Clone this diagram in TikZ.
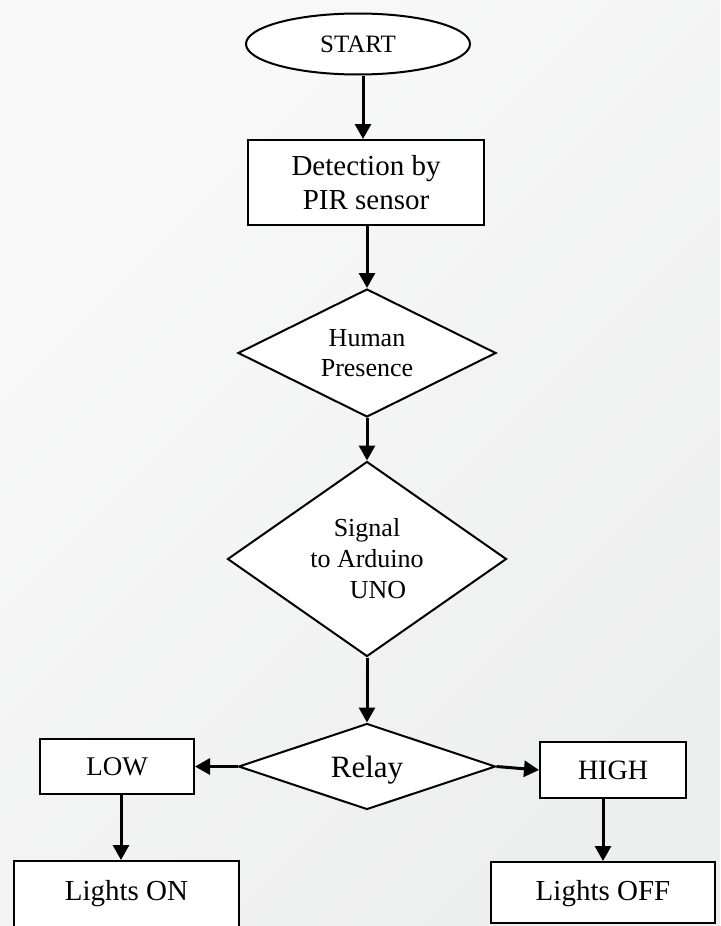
\documentclass[tikz,border=0pt]{standalone}
\usepackage{fontspec}
\setmainfont{Liberation Serif}
\usetikzlibrary{shapes.geometric,arrows.meta}
\definecolor{bglight}{RGB}{249,249,249}
\definecolor{bgdark}{RGB}{237,238,238}
\begin{document}
\begin{tikzpicture}[x=1pt,y=-1pt,
  outline/.style={draw=black, line width=2pt, fill=white, inner sep=0pt},
  box/.style={outline, rectangle, align=center},
  decision/.style={outline, diamond, align=center},
  arr/.style={line width=3pt, -{Triangle[length=15pt,width=16pt]}},
]
\useasboundingbox (0,0) rectangle (720,926);
\clip (0,0) rectangle (720,926);
\shade[top color=bglight, bottom color=bgdark, shading angle=45] (0,0) rectangle (720,926);

% main column
\node[outline, ellipse, minimum width=224pt, minimum height=61pt,
      font=\fontsize{25}{30}\selectfont] (start) at (358,44) {START};
\node[box, minimum width=236pt, minimum height=85pt,
      font=\fontsize{29}{34}\selectfont] (det) at (366,182.5) {Detection by\\PIR sensor};
\node[decision, minimum width=258pt, minimum height=128pt, shape aspect=2,
      font=\fontsize{26}{30}\selectfont] (hum) at (367,353) {Human\\Presence};
\node[decision, minimum width=279pt, minimum height=195pt, shape aspect=1.43,
      font=\fontsize{26}{31}\selectfont] (sig) at (367,559) {Signal\\to Arduino\\\hspace*{22pt}UNO};
\node[decision, minimum width=257pt, minimum height=86pt, shape aspect=3,
      text depth=0pt, font=\fontsize{31}{36}\selectfont] (rel) at (367,766.5) {Relay};

% branches
\node[box, minimum width=154pt, minimum height=55pt,
      font=\fontsize{27}{32}\selectfont] (low) at (117,766.5) {LOW};
\node[box, minimum width=146pt, minimum height=56pt,
      font=\fontsize{28}{32}\selectfont] (high) at (613,770) {HIGH};
\node[box, anchor=north, minimum width=225pt, text height=20pt, text depth=17pt,
      inner ysep=19pt, font=\fontsize{29}{34}\selectfont] (lon) at (126.5,860) {Lights ON};
\node[box, anchor=north, minimum width=224pt, text height=20pt, text depth=5pt,
      inner ysep=18pt, font=\fontsize{29}{34}\selectfont] (loff) at (603,861) {Lights OFF};

% connectors
\draw[arr] ([xshift=5pt]start.south) -- ([xshift=5pt]start.south |- det.north);
\draw[arr] (hum.north |- det.south) -- (hum.north);
\draw[arr] (hum.south) -- (sig.north);
\draw[arr] (sig.south) -- (rel.north);
\draw[arr] (rel.west) -- (low.east);
\draw[arr] (rel.east) -- (high.west);
\draw[arr] ([xshift=4pt]low.south) -- ([xshift=4pt]low.south |- lon.north);
\draw[arr] (high.south -| loff.north) -- (loff.north);
\end{tikzpicture}
\end{document}
